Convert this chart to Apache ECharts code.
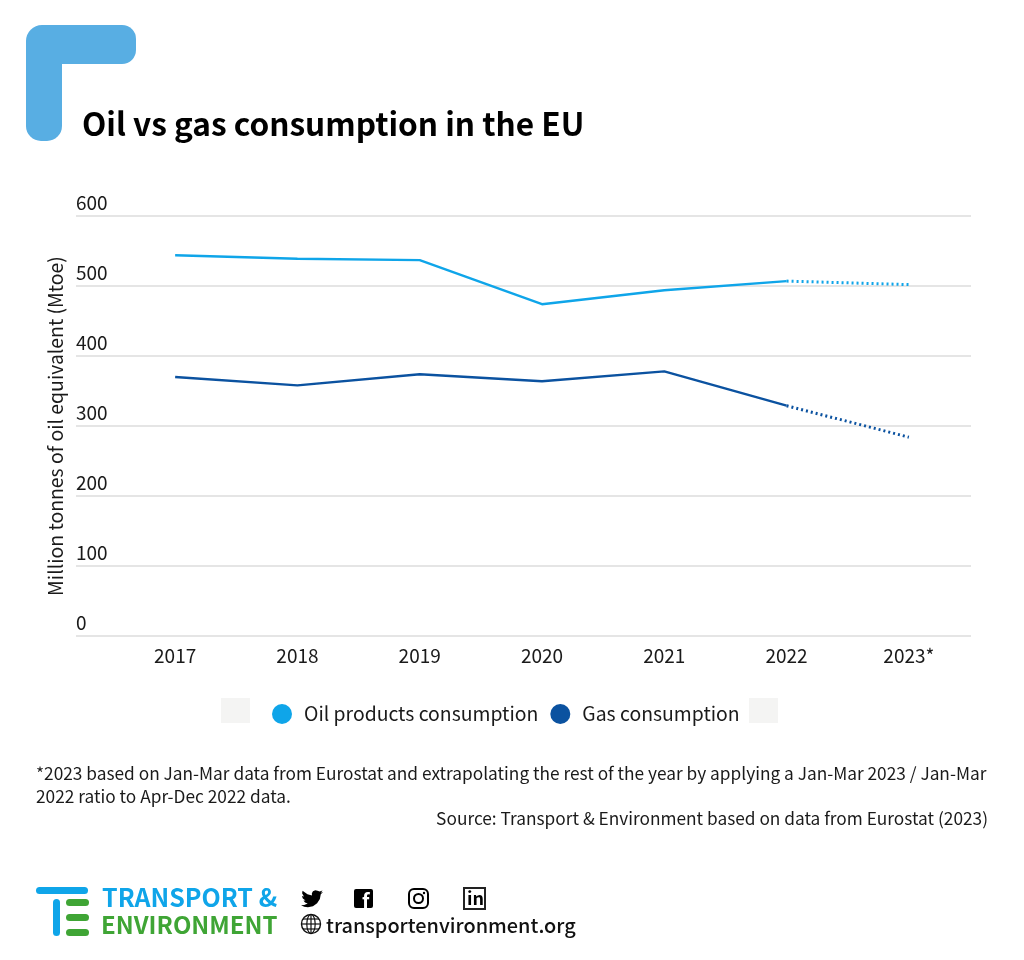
<!DOCTYPE html>
<html><head><meta charset="utf-8">
<style>html,body{margin:0;padding:0;background:#fff}#c{width:1024px;height:960px}</style>
<script src="https://cdn.jsdelivr.net/npm/echarts@6/dist/echarts.min.js"></script>
</head><body><div id="c"></div>
<script>
const years = ['2017','2018','2019','2020','2021','2022','2023*'];
const oilSolid = [544,539,537,474,494,507,null];
const oilDotted = [null,null,null,null,null,507,502];
const gasSolid = [370,358,374,364,378,329,null];
const gasDotted = [null,null,null,null,null,329,284];
const oilName = 'Oil products consumption';
const gasName = 'Gas consumption';
const titleText = 'Oil vs gas consumption in the EU';
const yName = 'Million tonnes of oil equivalent (Mtoe)';
const note1 = '*2023 based on Jan-Mar data from Eurostat and extrapolating the rest of the year by applying a Jan-Mar 2023 / Jan-Mar';
const note2 = '2022 ratio to Apr-Dec 2022 data.';
const sourceText = 'Source: Transport & Environment based on data from Eurostat (2023)';
const FONT = '"Noto Sans CJK SC","Noto Sans",sans-serif';
const OIL = '#0fa5e9', GAS = '#0b52a0', INK = '#1a1a1a';
const birdShape = [[24,4.6],[21.5,5.3],[23.4,2.7],[20.3,3.9],[18,3],[15.5,2.6],[13,3.8],[11.8,6],[11.9,8.4],[7,7.2],[1.7,3.2],[1.2,6],[3.2,9.8],[1,9.2],[2,12],[4.9,14.1],[2.7,14.2],[4.4,16.5],[7.3,17.6],[3.5,19.3],[0,19.6],[3.5,21.3],[7.5,21.8],[13,20.7],[17.5,17.2],[20.5,12.5],[21.5,7.2]];

function line(name,data,color,dotted){
  return {type:'line',name,data,xAxisIndex:0,yAxisIndex:0,symbol:'none',connectNulls:false,
    itemStyle:{color},
    lineStyle:{color,width:dotted?3:2.4,type:dotted?[2,3]:'solid',cap:'butt'},z:5};
}
function txt(x,y,text,size,extra){
  return {type:'text',x,y,style:Object.assign({text,fontSize:size,fontFamily:FONT,fill:INK,verticalAlign:'middle'},extra||{})};
}
function bar(x,y,w,h,fill){
  return {type:'rect',shape:{x,y,width:w,height:h,r:h/2},style:{fill}};
}
const chart = echarts.init(document.getElementById('c'),null,{renderer:'canvas'});
chart.setOption({
  animation:false,
  backgroundColor:'#fff',
  title:{text:titleText,left:82,top:108,padding:0,textStyle:{fontFamily:FONT,fontSize:31.6,fontWeight:700,color:'#000'}},
  grid:[
    {left:114,top:216,width:856,height:420},
    {left:76,top:216,width:895,height:420}
  ],
  xAxis:[
    {type:'category',gridIndex:0,data:years,boundaryGap:true,axisLine:{show:false},axisTick:{show:false},
     axisLabel:{fontFamily:FONT,fontSize:19,color:INK,margin:10}},
    {type:'category',gridIndex:1,data:years,show:false}
  ],
  yAxis:[
    {type:'value',gridIndex:0,min:0,max:600,interval:100,show:false,splitLine:{show:false}},
    {type:'value',gridIndex:1,min:0,max:600,interval:100,
     name:yName,nameLocation:'middle',nameGap:11,nameRotate:90,
     nameTextStyle:{fontFamily:FONT,fontSize:19.4,color:INK},
     axisLine:{show:false},axisTick:{show:false},
     axisLabel:{inside:true,margin:0,verticalAlign:'bottom',align:'left',fontFamily:FONT,fontSize:19,color:INK,padding:[0,0,4,0]},
     splitLine:{show:true,lineStyle:{color:'#dcdcdc',width:1.5}}}
  ],
  legend:{left:267,top:699,itemWidth:20,itemHeight:20,itemGap:12,icon:'circle',
    data:[oilName,gasName],selectedMode:false,
    textStyle:{fontFamily:FONT,fontSize:19.4,color:INK,padding:[0,0,0,7]}},
  series:[
    line(oilName,oilSolid,OIL,false),
    line(oilName,oilDotted,OIL,true),
    line(gasName,gasSolid,GAS,false),
    line(gasName,gasDotted,GAS,true)
  ],
  graphic:[
    {type:'rect',shape:{x:26,y:25,width:110,height:39,r:[16,14,14,0]},style:{fill:'#58aee3'}},
    {type:'rect',shape:{x:26,y:45,width:36,height:96,r:[0,0,15,15]},style:{fill:'#58aee3'}},
    {type:'rect',shape:{x:221,y:698,width:29,height:25},style:{fill:'#f4f4f3'}},
    {type:'rect',shape:{x:749,y:698,width:29,height:25},style:{fill:'#f4f4f3'}},
    txt(36,773,note1,17.3),
    txt(36,796,note2,17.3),
    txt(988,818,sourceText,17.3,{align:'right'}),
    bar(36,887,52,7,'#0fa5e9'),
    {type:'rect',shape:{x:53,y:899,width:7,height:37,r:3.5},style:{fill:'#0fa5e9'}},
    bar(66,899,23,7,'#3fa535'),
    bar(66,914,23,7,'#3fa535'),
    bar(66,929,23,7,'#3fa535'),
    txt(102,897,'TRANSPORT &',25,{fill:'#0fa5e9',fontWeight:700}),
    txt(101,925,'ENVIRONMENT',24,{fill:'#3fa535',fontWeight:700}),
    {type:'polygon',shape:{points:birdShape.map(p=>[301+p[0]*0.92,888+p[1]*0.88])},style:{fill:'#000'}},
    {type:'rect',shape:{x:354,y:889,width:19,height:19,r:2},style:{fill:'#000'}},
    txt(362,900,'f',20,{fill:'#fff',fontWeight:700}),
    {type:'rect',shape:{x:409,y:889,width:19,height:19,r:5},style:{fill:'none',stroke:'#000',lineWidth:2}},
    {type:'circle',shape:{cx:418.5,cy:898.5,r:4.5},style:{fill:'none',stroke:'#000',lineWidth:2}},
    {type:'circle',shape:{cx:424,cy:893,r:1.2},style:{fill:'#000'}},
    {type:'rect',shape:{x:464,y:888,width:21,height:21},style:{fill:'#fff',stroke:'#222',lineWidth:2}},
    txt(467,898,'in',18,{fill:'#000',fontWeight:700}),
    {type:'circle',shape:{cx:311,cy:924,r:9.5},style:{fill:'none',stroke:'#111',lineWidth:1.4}},
    {type:'ellipse',shape:{cx:311,cy:924,rx:4.2,ry:9.5},style:{fill:'none',stroke:'#111',lineWidth:1.2}},
    {type:'line',shape:{x1:311,y1:914.5,x2:311,y2:933.5},style:{stroke:'#111',lineWidth:1.2}},
    {type:'line',shape:{x1:301.5,y1:924,x2:320.5,y2:924},style:{stroke:'#111',lineWidth:1.2}},
    {type:'line',shape:{x1:303,y1:919,x2:319,y2:919},style:{stroke:'#111',lineWidth:1.2}},
    {type:'line',shape:{x1:303,y1:929,x2:319,y2:929},style:{stroke:'#111',lineWidth:1.2}},
    txt(326,925,'transportenvironment.org',19.9,{fill:'#111',fontWeight:500})
  ]
});
</script></body></html>
